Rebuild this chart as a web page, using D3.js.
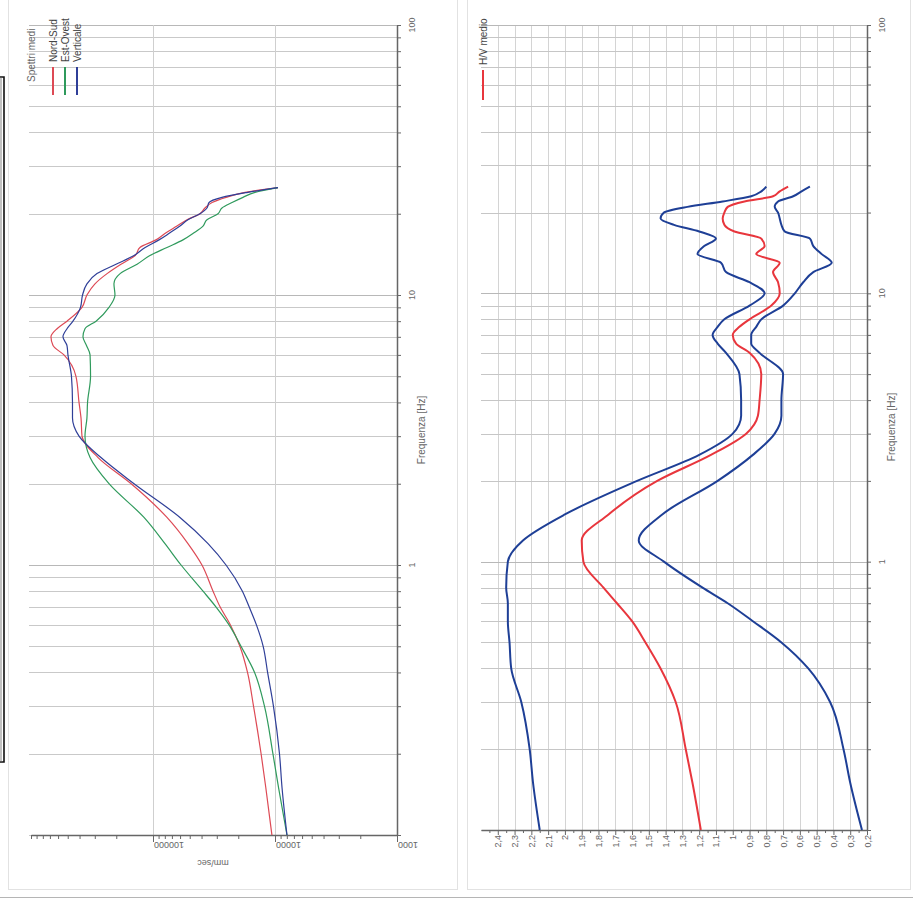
<!DOCTYPE html>
<html>
<head>
<meta charset="utf-8">
<script src="https://cdn.jsdelivr.net/npm/d3@7"></script>
<style>
  body { margin: 0; background: #fff; }
  text { font-family: Arial, "Liberation Sans", sans-serif; }
</style>
</head>
<body>
<svg id="chart" width="913" height="906"></svg>
<script>
// frequencies (Hz) shared by both panels
const freqs = [0.1, 0.15, 0.2, 0.3, 0.4, 0.5, 0.6, 0.7, 0.8, 1, 1.2, 1.5, 2, 2.5, 3, 3.5, 4, 5, 6, 6.5,
               7, 7.5, 8, 9, 10, 11, 12, 13, 14, 15, 16, 17, 18, 19, 20, 21, 22, 23, 24, 25];

// spettri medi (mm/sec)
const nordSud = [10600, 11900, 13000, 15000, 16800, 19400, 23200, 28200, 32200, 39700, 51700, 76800, 151000, 282000,
                 382000, 389000, 404000, 428000, 537000, 660000, 686000, 612000, 507000, 382000, 348000, 299000,
                 238000, 183000, 140000, 128000, 94500, 78200, 63600, 52600, 41200, 37500, 32800, 25200, 17600, 9450];
const estOvest = [7980, 9360, 10400, 12200, 14700, 19000, 23800, 30500, 38900, 58900, 79800, 118500, 229500, 328000,
                  361000, 348000, 344000, 325000, 328000, 351000, 375000, 361000, 293000, 229500, 205000, 209000,
                  186000, 135000, 106000, 76800, 56800, 46100, 38900, 36100, 29300, 27200, 22500, 18300, 14600, 9450];
const verticale = [7980, 8760, 9190, 10300, 11500, 12500, 14200, 16300, 18500, 25200, 35400, 60100, 143000, 267000,
                   404000, 457000, 457000, 466000, 498000, 507000, 547000, 507000, 453000, 393000, 378000, 348000,
                   288000, 201000, 143000, 116000, 89300, 72600, 60100, 51700, 41200, 36100, 34800, 27200, 16700, 9450];

// H/V medio and its bounds
const hvMedio = [1.19, 1.24, 1.28, 1.34, 1.43, 1.52, 1.60, 1.69, 1.77, 1.89, 1.90, 1.74, 1.45, 1.13, 0.92, 0.85,
                 0.84, 0.83, 0.90, 0.98, 1.00, 0.96, 0.90, 0.77, 0.72, 0.73, 0.76, 0.72, 0.86, 0.81, 0.83, 0.99,
                 1.05, 1.06, 1.05, 1.03, 0.93, 0.76, 0.72, 0.67];
const hvMax = [2.15, 2.19, 2.21, 2.26, 2.32, 2.33, 2.34, 2.34, 2.35, 2.34, 2.25, 2.00, 1.57, 1.20, 1.00, 0.95,
               0.95, 0.96, 1.04, 1.09, 1.12, 1.09, 1.05, 0.90, 0.81, 0.90, 1.04, 1.07, 1.21, 1.17, 1.10, 1.20,
               1.35, 1.43, 1.41, 1.27, 1.06, 0.89, 0.83, 0.80];
const hvMin = [0.23, 0.30, 0.34, 0.42, 0.55, 0.71, 0.88, 1.03, 1.18, 1.41, 1.56, 1.42, 1.09, 0.88, 0.75, 0.71,
               0.71, 0.70, 0.84, 0.89, 0.89, 0.86, 0.83, 0.70, 0.63, 0.58, 0.52, 0.41, 0.47, 0.52, 0.54, 0.69,
               0.71, 0.72, 0.73, 0.75, 0.73, 0.64, 0.59, 0.54];

// tick labels
const freqLabels = [1, 10, 100];
const ampLabels = [1000, 10000, 100000];
const hvTicks = [0.2, 0.3, 0.4, 0.5, 0.6, 0.7, 0.8, 0.9, 1, 1.1, 1.2, 1.3, 1.4, 1.5, 1.6, 1.7, 1.8, 1.9, 2,
                 2.1, 2.2, 2.3, 2.4];

const spSeries = [
  { name: "Nord-Sud", values: nordSud, color: "#dd4a55" },
  { name: "Est-Ovest", values: estOvest, color: "#2f9a5c" },
  { name: "Verticale", values: verticale, color: "#2f3f98" }
];
const hvSeries = [
  { values: hvMax, color: "#1e3f96" },
  { values: hvMin, color: "#1e3f96" },
  { values: hvMedio, color: "#e8363d" }
];

const svg = d3.select("#chart");
svg.append("rect").attr("width", 913).attr("height", 906).attr("fill", "#fff");

// page frames
svg.append("rect").attr("x", 8.5).attr("y", -5).attr("width", 449).attr("height", 894.5)
   .attr("fill", "none").attr("stroke", "#e2e2e2");
svg.append("rect").attr("x", 467.5).attr("y", -5).attr("width", 443).attr("height", 894.5)
   .attr("fill", "none").attr("stroke", "#e2e2e2");
svg.append("line").attr("x1", 0).attr("x2", 913).attr("y1", 897.5).attr("y2", 897.5)
   .attr("stroke", "#b5b5b5");
svg.append("path").attr("d", "M0,77H4V762H0").attr("fill", "none")
   .attr("stroke", "#111").attr("stroke-width", 1.6);
svg.append("line").attr("x1", 1).attr("x2", 1).attr("y1", 77).attr("y2", 762)
   .attr("stroke", "#666").attr("stroke-width", 0.8);

const tickCol = "#666", labCol = "#666";

function rotLabel(g, x, y, txt, anchor, angle, size) {
  g.append("text")
   .attr("transform", `translate(${x},${y}) rotate(${angle})`)
   .attr("text-anchor", anchor)
   .attr("font-size", size)
   .attr("fill", labCol)
   .text(txt);
}

// ---------- left panel: spettri ----------
const spY = d3.scaleLog().domain([0.1, 100]).range([835, 25]);
const spX = d3.scaleLog().domain([1e6, 1e3]).range([31, 397]);
const left = svg.append("g");

left.selectAll("line.hg").data(spY.ticks()).enter().append("line")
    .attr("x1", 29).attr("x2", 397)
    .attr("y1", d => Math.round(spY(d)) + 0.5).attr("y2", d => Math.round(spY(d)) + 0.5)
    .attr("stroke", d => freqLabels.includes(d) ? "#b8b8b8" : "#c9c9c9");
left.selectAll("line.vg").data(ampLabels.slice(1)).enter().append("line")
    .attr("x1", d => Math.round(spX(d)) + 0.5).attr("x2", d => Math.round(spX(d)) + 0.5)
    .attr("y1", 25).attr("y2", 835)
    .attr("stroke", "#cfcfcf");

const spYAxis = left.append("g").attr("transform", "translate(397,0)")
    .call(d3.axisRight(spY).tickValues(spY.ticks()).tickSize(4).tickSizeOuter(0).tickFormat(""));
const spXAxis = left.append("g").attr("transform", "translate(0,835)")
    .call(d3.axisBottom(spX).tickValues(spX.ticks()).tickSize(4).tickSizeOuter(0).tickFormat(""));
[spYAxis, spXAxis].forEach(a => {
  a.select(".domain").attr("stroke", tickCol).attr("stroke-width", 1.5);
  a.selectAll(".tick line").attr("stroke", tickCol);
});
spXAxis.selectAll(".tick line").attr("y2", d => ampLabels.includes(d) ? 7 : 4);

freqLabels.forEach(f => rotLabel(left, 415, spY(f), f, "middle", -90, 9));
ampLabels.forEach(v => rotLabel(left, spX(v) + 1, 842, v, "end", 180, 9));
rotLabel(left, 213, 860, "mm/sec", "middle", 180, 9);
rotLabel(left, 425, 430, "Frequenza [Hz]", "middle", -90, 10);

const spLine = d3.line().curve(d3.curveMonotoneY)
    .y((d, i) => spY(freqs[i])).x(d => spX(d));
left.selectAll("path.sp").data(spSeries).enter().append("path")
    .attr("d", s => spLine(s.values))
    .attr("fill", "none").attr("stroke", s => s.color).attr("stroke-width", 1.2);

// legend
rotLabel(left, 35, 82, "Spettri medi", "start", -90, 10);
spSeries.forEach((s, i) => {
  const x = 53 + i * 12;
  left.append("line").attr("x1", x).attr("x2", x).attr("y1", 95).attr("y2", 67)
      .attr("stroke", s.color).attr("stroke-width", 2);
  left.append("text")
      .attr("transform", `translate(${x + 3.5},62) rotate(-90)`)
      .attr("font-size", 10).attr("fill", "#444").text(s.name);
});

// ---------- right panel: H/V ----------
const hvY = d3.scaleLog().domain([0.1, 100]).range([830, 25]);
const hvX = d3.scaleLinear().domain([2.5, 0.2]).range([481, 867]);
const right = svg.append("g");

right.selectAll("line.vg").data(hvTicks).enter().append("line")
     .attr("x1", d => Math.round(hvX(d)) + 0.5).attr("x2", d => Math.round(hvX(d)) + 0.5)
     .attr("y1", 25).attr("y2", 830)
     .attr("stroke", "#d4d4d4");
right.selectAll("line.hg").data(hvY.ticks()).enter().append("line")
     .attr("x1", 481).attr("x2", 867)
     .attr("y1", d => Math.round(hvY(d)) + 0.5).attr("y2", d => Math.round(hvY(d)) + 0.5)
     .attr("stroke", d => freqLabels.includes(d) ? "#b8b8b8" : "#c6c6c6");

const hvMinor = d3.pairs(hvTicks).map(p => (p[0] + p[1]) / 2).concat([2.45]);
const hvYAxis = right.append("g").attr("transform", "translate(867,0)")
    .call(d3.axisRight(hvY).tickValues(hvY.ticks()).tickSize(4).tickSizeOuter(0).tickFormat(""));
const hvXAxis = right.append("g").attr("transform", "translate(0,830)")
    .call(d3.axisBottom(hvX).tickValues(hvTicks.concat(hvMinor)).tickSize(5).tickSizeOuter(0).tickFormat(""));
[hvYAxis, hvXAxis].forEach(a => {
  a.select(".domain").attr("stroke", tickCol).attr("stroke-width", 1.5);
  a.selectAll(".tick line").attr("stroke", tickCol);
});
hvXAxis.selectAll(".tick line").attr("y2", d => hvTicks.includes(d) ? 5 : 3);

freqLabels.forEach(f => rotLabel(right, 885, hvY(f), f, "middle", -90, 9));
hvTicks.forEach(v => rotLabel(right, hvX(v) + 3.5, 835, String(+v.toFixed(1)).replace(".", ","), "end", -90, 9));
rotLabel(right, 895, 427, "Frequenza [Hz]", "middle", -90, 10);

const hvLine = d3.line().curve(d3.curveMonotoneY)
    .y((d, i) => hvY(freqs[i])).x(d => hvX(d));
right.selectAll("path.hv").data(hvSeries).enter().append("path")
     .attr("d", s => hvLine(s.values))
     .attr("fill", "none").attr("stroke", s => s.color).attr("stroke-width", 2);

right.append("line").attr("x1", 483).attr("x2", 483).attr("y1", 100).attr("y2", 70)
     .attr("stroke", "#e8363d").attr("stroke-width", 2);
right.append("text").attr("transform", "translate(487,65) rotate(-90)")
     .attr("font-size", 10).attr("fill", "#444").text("H/V medio");
</script>
</body>
</html>
